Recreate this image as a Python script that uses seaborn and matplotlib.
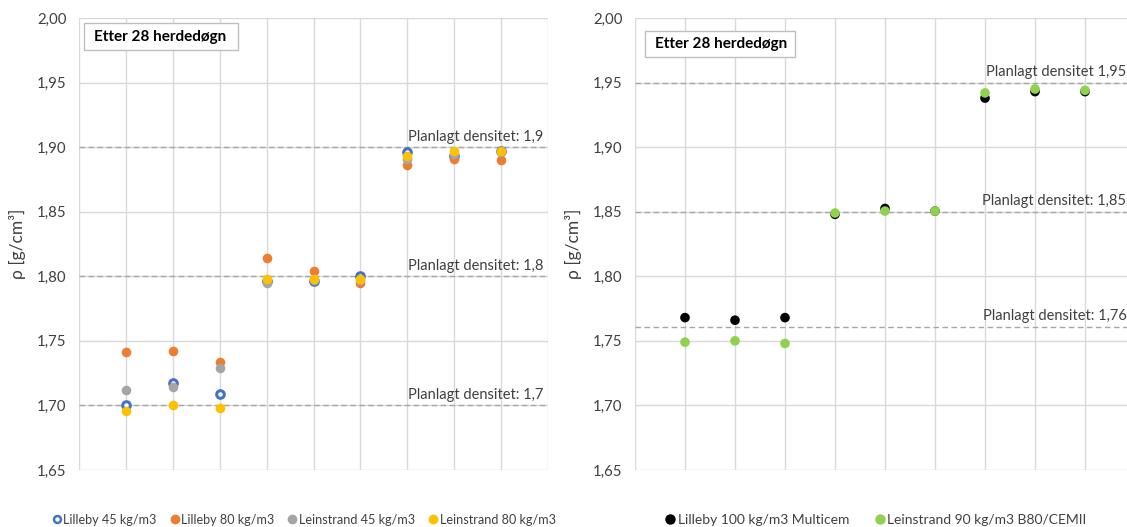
import matplotlib
matplotlib.use("Agg")
import matplotlib.pyplot as plt
import seaborn as sns
import pandas as pd
from matplotlib.patches import Rectangle
from matplotlib.lines import Line2D

# ---------------- data ----------------
prove = [1, 2, 3, 4, 5, 6, 7, 8, 9]

lilleby_45 = [1.700, 1.717, 1.709, 1.796, 1.796, 1.800, 1.896, 1.893, 1.897]
lilleby_80 = [1.741, 1.742, 1.734, 1.814, 1.804, 1.795, 1.886, 1.891, 1.890]
leinstrand_45 = [1.712, 1.714, 1.729, 1.795, 1.797, 1.797, 1.891, 1.895, 1.896]
leinstrand_80 = [1.696, 1.700, 1.698, 1.798, 1.798, 1.798, 1.893, 1.897, 1.897]

lilleby_100 = [1.768, 1.766, 1.768, 1.848, 1.8525, 1.8505, 1.938, 1.943, 1.943]
leinstrand_90 = [1.749, 1.750, 1.748, 1.849, 1.8505, 1.8505, 1.942, 1.945, 1.944]

left_names = ["Lilleby 45 kg/m3", "Lilleby 80 kg/m3", "Leinstrand 45 kg/m3", "Leinstrand 80 kg/m3"]
right_names = ["Lilleby 100 kg/m3 Multicem", "Leinstrand 90 kg/m3 B80/CEMII"]

left_ref = [1.9, 1.8, 1.7]
left_ref_labels = ["Planlagt densitet: 1,9", "Planlagt densitet: 1,8", "Planlagt densitet: 1,7"]
right_ref = [1.95, 1.85, 1.761]
right_ref_labels = ["Planlagt densitet 1,95", "Planlagt densitet: 1,85", "Planlagt densitet: 1,76"]

y_ticks = [1.65, 1.70, 1.75, 1.80, 1.85, 1.90, 1.95, 2.00]
y_tick_labels = ["1,65", "1,70", "1,75", "1,80", "1,85", "1,90", "1,95", "2,00"]
x_grid = [0, 1, 2, 3, 4, 5, 6, 7, 8, 9, 10]

box_text = "Etter 28 herdedøgn"
y_label = "ρ [g/cm³]"

# ---------------- style ----------------
sns.set_theme(style="white")
plt.rcParams["font.family"] = ["Lato", "DejaVu Sans"]
plt.rcParams["font.size"] = 10

W, H = 1127, 527
fig = plt.figure(figsize=(W / 100, H / 100), dpi=100)
fig.patch.set_facecolor("white")

def px_axes(x0, x1, ytop, ybot):
    return fig.add_axes([x0 / W, (H - ybot) / H, (x1 - x0) / W, (ybot - ytop) / H])

ax_l = px_axes(79, 548, 18, 470)
ax_r = px_axes(635, 1135, 18, 470)

grid_c = "#D9D9D9"
ref_c = "#A6A6A6"
txt_c = "#404040"

def style_axes(ax):
    ax.set_xlim(x_grid[0], x_grid[-1])
    ax.set_ylim(y_ticks[0], y_ticks[-1])
    ax.set_xticks(x_grid)
    ax.set_xticklabels([])
    ax.set_yticks(y_ticks)
    ax.set_yticklabels(y_tick_labels, fontsize=10.8, color=txt_c)
    ax.tick_params(axis="both", length=0, pad=9)
    ax.grid(True, color=grid_c, linewidth=1)
    ax.set_axisbelow(True)
    for s in ax.spines.values():
        s.set_visible(False)
    ax.set_xlabel("")
    ax.set_ylabel(y_label, fontsize=12.5, color=txt_c, labelpad=8)

def ref_lines(ax, levels, labels, x_text):
    for lv, lb in zip(levels, labels):
        ax.axhline(lv, color=ref_c, linestyle=(0, (4, 2.5)), linewidth=1, zorder=1)
        ax.annotate(lb, xy=(x_text, lv), xytext=(0, 2.5), textcoords="offset points",
                    ha="right", va="bottom", fontsize=10.5, color=txt_c, zorder=2)

def info_box(ax, x0, y0, w, h, tx, ty):
    ax.add_patch(Rectangle((x0, y0), w, h, transform=ax.transAxes, facecolor="white",
                           edgecolor="#BFBFBF", linewidth=1, zorder=5))
    ax.text(tx, ty, box_text, transform=ax.transAxes, fontsize=11, fontweight="bold",
            color="black", va="center", ha="left", zorder=6)

# ---------------- left panel ----------------
df_l = pd.DataFrame({"x": prove * 4,
                     "y": lilleby_45 + lilleby_80 + leinstrand_45 + leinstrand_80,
                     "serie": sum([[n] * len(prove) for n in left_names], [])})
left_colors = ["#4472C4", "#ED7D31", "#A5A5A5", "#FFC000"]
ms = 48
for name, col in zip(left_names, left_colors):
    sub = df_l[df_l["serie"] == name]
    if name == left_names[0]:
        sns.scatterplot(data=sub, x="x", y="y", ax=ax_l, s=30, marker="o",
                        facecolor="white", edgecolor=col, linewidth=2.2, zorder=3)
    else:
        sns.scatterplot(data=sub, x="x", y="y", ax=ax_l, s=ms, marker="o",
                        color=col, edgecolor=col, linewidth=0, zorder=3)
style_axes(ax_l)
ref_lines(ax_l, left_ref, left_ref_labels, 9.9)
info_box(ax_l, 0.0107, 0.929, 0.328, 0.06, 0.032, 0.959)

handles_l = [Line2D([], [], marker="o", linestyle="", markersize=5, markerfacecolor="white",
                    markeredgecolor=left_colors[0], markeredgewidth=1.8)]
handles_l += [Line2D([], [], marker="o", linestyle="", markersize=6, markerfacecolor=c,
                     markeredgecolor=c) for c in left_colors[1:]]
ax_l.legend(handles_l, left_names, loc="center", bbox_to_anchor=(0.478, -0.11), ncol=4,
            frameon=False, fontsize=9.1, handletextpad=0.05, columnspacing=0.9,
            handlelength=1.0, labelcolor=txt_c)

# ---------------- right panel ----------------
df_r = pd.DataFrame({"x": prove * 2,
                     "y": lilleby_100 + leinstrand_90,
                     "serie": sum([[n] * len(prove) for n in right_names], [])})
right_colors = ["#000000", "#92D050"]
sns.scatterplot(data=df_r, x="x", y="y", hue="serie", palette=right_colors, ax=ax_r,
                s=ms, linewidth=0, zorder=3, legend=False)
style_axes(ax_r)
ref_lines(ax_r, right_ref, right_ref_labels, 9.83)
info_box(ax_r, 0.02, 0.914, 0.30, 0.057, 0.04, 0.942)

handles_r = [Line2D([], [], marker="o", linestyle="", markersize=6.5, markerfacecolor=c,
                    markeredgecolor=c) for c in right_colors]
ax_r.legend(handles_r, right_names, loc="center", bbox_to_anchor=(0.48, -0.11), ncol=2,
            frameon=False, fontsize=10, handletextpad=0.05, columnspacing=1.7,
            handlelength=1.0, labelcolor=txt_c)

fig.savefig("out.png", dpi=100)
